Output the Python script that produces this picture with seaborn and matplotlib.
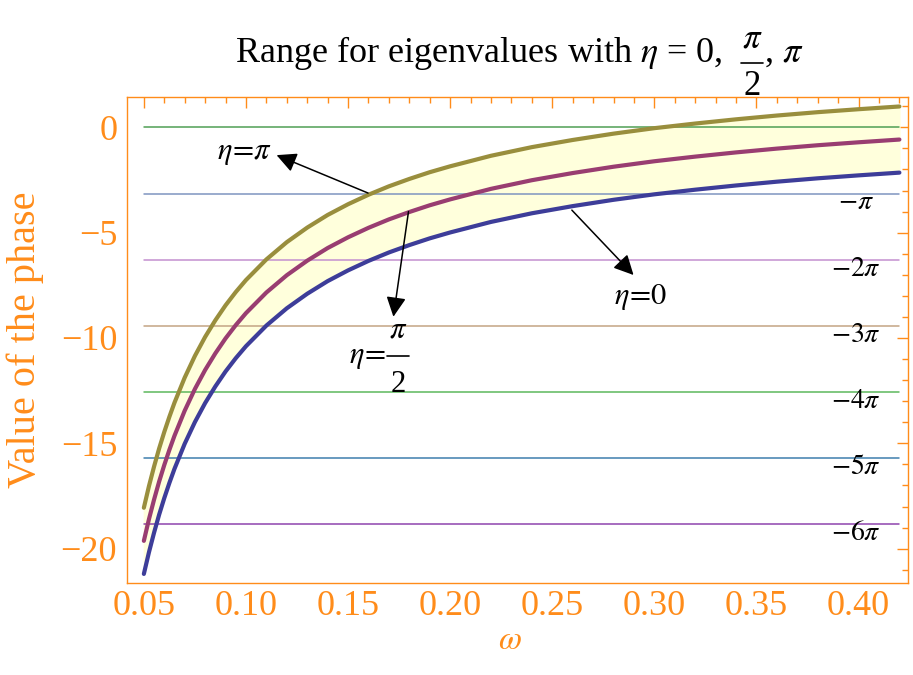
import numpy as np
import pandas as pd
import matplotlib
matplotlib.use('Agg')
import matplotlib.pyplot as plt
import seaborn as sns
from matplotlib.ticker import MultipleLocator, FormatStrFormatter
from matplotlib.transforms import IdentityTransform
from matplotlib.lines import Line2D

# values
omega = [0.05, 0.0525, 0.055, 0.0575, 0.06, 0.0625, 0.065, 0.07, 0.075, 0.08, 0.085, 0.09,
         0.095, 0.10, 0.11, 0.12, 0.13, 0.14, 0.15, 0.16, 0.17, 0.18, 0.19, 0.20, 0.22,
         0.24, 0.26, 0.28, 0.30, 0.32, 0.34, 0.36, 0.38, 0.40, 0.42]
eta_0 = [-21.20, -20.17, -19.24, -18.38, -17.60, -16.88, -16.21, -15.02, -13.99, -13.09,
         -12.30, -11.59, -10.96, -10.39, -9.41, -8.59, -7.90, -7.30, -6.79, -6.34, -5.94,
         -5.59, -5.27, -4.99, -4.49, -4.08, -3.74, -3.44, -3.18, -2.96, -2.76, -2.58,
         -2.42, -2.28, -2.15]
eta_half_pi = [-19.63, -18.60, -17.67, -16.81, -16.03, -15.31, -14.64, -13.45, -12.42, -11.52,
               -10.73, -10.02, -9.39, -8.82, -7.84, -7.02, -6.33, -5.73, -5.22, -4.77, -4.37,
               -4.02, -3.70, -3.42, -2.92, -2.51, -2.17, -1.87, -1.61, -1.39, -1.19, -1.01,
               -0.85, -0.71, -0.58]
eta_pi = [-18.06, -17.03, -16.10, -15.24, -14.46, -13.74, -13.07, -11.88, -10.85, -9.95,
          -9.16, -8.45, -7.82, -7.25, -6.27, -5.45, -4.76, -4.16, -3.65, -3.20, -2.80,
          -2.45, -2.13, -1.85, -1.35, -0.94, -0.60, -0.30, -0.04, 0.18, 0.38, 0.56,
          0.72, 0.86, 0.99]

level_k = [0, 1, 2, 3, 4, 5, 6]
level_labels = ['', r'$-\pi$', r'$-2\pi$', r'$-3\pi$', r'$-4\pi$', r'$-5\pi$', r'$-6\pi$']
level_colors = ['#4f9f55', '#7f95c0', '#c490d0', '#c4a484', '#5cb85c', '#3f7fae', '#8e44ad']

df = pd.DataFrame({'omega': omega, 'eta0': eta_0, 'eta_half': eta_half_pi, 'eta_pi': eta_pi})

sns.set_style('white')
plt.rcParams['font.family'] = ['Liberation Serif', 'DejaVu Serif']
plt.rcParams['mathtext.fontset'] = 'stix'
plt.rcParams['text.color'] = 'black'

orange = '#ff8c1a'
H = 675

fig = plt.figure(figsize=(9.13, 6.75), dpi=100)
ax = fig.add_axes([0.139, 0.1363, 0.8555, 0.72])

#текст в пикселях (сверху вниз)
def px_text(x, y, s, **kw):
    fig.text(x, H - y, s, transform=IdentityTransform(), color='black', **kw)

def px_line(x0, x1, y):
    fig.add_artist(Line2D([x0, x1], [H - y, H - y], transform=IdentityTransform(),
                          color='black', lw=1.2))

#заливка между кривыми
ax.fill_between(df['omega'], df['eta0'], df['eta_pi'], color='#ffffdc', zorder=1)

#горизонтальные линии -k*pi
for k, lab, c in zip(level_k, level_labels, level_colors):
    ax.plot([omega[0], omega[-1]], [-k * np.pi, -k * np.pi], color=c, lw=1.1, zorder=2)
    if lab:
        ax.text(0.3985, -k * np.pi - 0.45, lab, ha='center', va='center', fontsize=20, color='black')

sns.lineplot(data=df, x='omega', y='eta0', color='#3d3d99', lw=3, ax=ax, zorder=3)
sns.lineplot(data=df, x='omega', y='eta_half', color='#993d71', lw=3, ax=ax, zorder=3)
sns.lineplot(data=df, x='omega', y='eta_pi', color='#998e3d', lw=3, ax=ax, zorder=3)

#стрелки с подписями
arrow = dict(arrowstyle='-|>', mutation_scale=30, color='black', lw=1.1, shrinkA=0, shrinkB=0)
ax.annotate('', xy=(0.115, -1.32), xytext=(0.1598, -3.12), arrowprops=arrow, zorder=4)
ax.text(0.0995, -1.18, r'$\eta\!=\!\pi$', ha='center', va='center', fontsize=22)
ax.annotate('', xy=(0.1722, -8.99), xytext=(0.1796, -4.0), arrowprops=arrow, zorder=4)
ax.annotate('', xy=(0.2898, -7.01), xytext=(0.2596, -3.93), arrowprops=arrow, zorder=4)
ax.text(0.2935, -8.06, r'$\eta\!=\!0$', ha='center', va='center', fontsize=22)

# eta = pi/2 как дробь
px_text(386, 363, r'$\eta\!=$', ha='right', va='baseline', fontsize=22)
px_text(398, 338, r'$\pi$', ha='center', va='baseline', fontsize=22)
px_line(387, 409, 356)
px_text(398, 392, '2', ha='center', va='baseline', fontsize=22)

ax.set_xlim(0.0417, 0.4242)
ax.set_ylim(-21.63, 1.44)

ax.xaxis.set_major_locator(MultipleLocator(0.05))
ax.xaxis.set_minor_locator(MultipleLocator(0.01))
ax.yaxis.set_minor_locator(MultipleLocator(1))
ax.xaxis.set_major_formatter(FormatStrFormatter('%.2f'))
ax.set_yticks([0, -5, -10, -15, -20])
ax.set_yticklabels(['0', '\u22125', '\u221210', '\u221215', '\u221220'])

ax.tick_params(which='both', direction='in', top=True, right=True, color=orange,
               labelcolor=orange, labelsize=26)
ax.tick_params(which='major', length=8, width=1)
ax.tick_params(which='minor', length=4, width=1)
ax.tick_params(axis='x', pad=5)
ax.tick_params(axis='y', pad=7)
for s in ax.spines.values():
    s.set_color(orange)
    s.set_linewidth(1)

ax.set_xlabel(r'$\omega$', color=orange, fontsize=24)
ax.set_ylabel('Value of the phase', color=orange, fontsize=29)
ax.xaxis.set_label_coords(0.49, -0.088)
ax.yaxis.set_label_coords(-0.106, 0.5)

#заголовок по частям
px_text(235, 62, r'Range for eigenvalues with $\eta$ = 0,', ha='left', va='baseline', fontsize=26)
px_text(752, 48, r'$\pi$', ha='center', va='baseline', fontsize=25)
px_line(741, 763, 63)
px_text(752, 95, '2', ha='center', va='baseline', fontsize=25)
px_text(764, 62, r', $\pi$', ha='left', va='baseline', fontsize=26)

fig.savefig('out.png', dpi=100)
